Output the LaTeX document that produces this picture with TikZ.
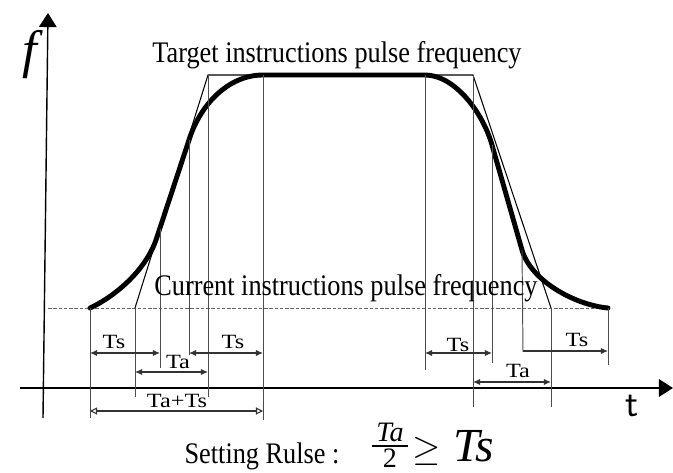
\documentclass[tikz,border=0pt]{standalone}
\usepackage{fontspec}
\setmainfont{Liberation Serif}
\newfontfamily\titlefont[FakeStretch=0.88]{Liberation Serif}
\newfontfamily\dimfont[FakeStretch=1.2]{Liberation Serif}
\usetikzlibrary{arrows.meta}

\begin{document}
\begin{tikzpicture}[x=0.02cm,y=-0.02cm,
   >={Latex[length=4pt,width=3.5pt]},
   axis/.style={line width=0.8pt,-{Triangle[length=8pt,width=10pt]}},
   curve/.style={line width=2.8pt,line join=round,line cap=round},
   ramp/.style={line width=0.6pt},
   guide/.style={line width=0.55pt,black!70},
   level/.style={line width=0.5pt,black!60,dash pattern=on 2pt off 1pt},
   dim/.style={<->,line width=0.6pt,black!80},
   sumdim/.style={line width=0.6pt,black!80,{Triangle[open,length=4pt,width=4pt]}-{Triangle[open,length=4pt,width=4pt]}},
   title/.style={font=\titlefont\fontsize{17}{19}\selectfont,inner sep=0pt,anchor=base},
   dimlbl/.style={font=\dimfont\fontsize{11.5}{13}\selectfont,inner sep=0pt},
   rulelbl/.style={inner sep=0pt,anchor=base,text depth=0pt}]
  \useasboundingbox (0,0) rectangle (673,473);
  % axes
  \coordinate (ybot) at (43,418);
  \coordinate (ytop) at (48,13);
  \coordinate (xleft) at (20,388);
  \coordinate (xright) at (673,388);
  \draw[axis] (ybot) -- (ytop);
  \draw[axis] (xleft) -- (xright);
  \node (flbl) at (30,55) {\fontsize{30}{32}\selectfont\itshape f};
  \node (tlbl) at (632,406) {\fontsize{22}{24}\selectfont\sffamily t};
  % current frequency level
  \coordinate (lvl0) at (48,308);
  \coordinate (lvl1) at (612,308);
  \draw[level] (lvl0) -- (lvl1);
  % trapezoid (target profile)
  \coordinate (r0) at (135,308);
  \coordinate (r1) at (208,75);
  \coordinate (r2) at (473,75);
  \coordinate (r3) at (551,308);
  \draw[ramp] (r0) -- (r1) -- (r2) -- (r3);
  % S-curve
  \coordinate (c0) at (90,308);
  \coordinate (c1) at (157,237);
  \coordinate (c2) at (189,140);
  \coordinate (c3) at (263,75);
  \coordinate (c4) at (425,75);
  \coordinate (c5) at (492,145);
  \coordinate (c6) at (522,250);
  \coordinate (c7) at (608,308);
  \draw[curve] (c0) .. controls (112,298) and (146,272) .. (c1) -- (c2)
     .. controls (200,105) and (228,75) .. (c3) -- (c4)
     .. controls (455,75) and (483,113) .. (c5) -- (c6)
     .. controls (531,281) and (575,305) .. (c7);
  % guide lines, left
  \coordinate (g1) at (90,418);
  \coordinate (g2) at (135,397);
  \coordinate (g3a) at (160,229);
  \coordinate (g3) at (160,368);
  \coordinate (g4) at (189,355);
  \coordinate (g5) at (208,397);
  \coordinate (g6) at (263,420);
  \draw[guide] (c0) -- (g1);
  \draw[guide] (r0) -- (g2);
  \draw[guide] (g3a) -- (g3);
  \draw[guide] (c2) -- (g4);
  \draw[guide] (r1) -- (g5);
  \draw[guide] (c3) -- (g6);
  % guide lines, right
  \coordinate (h1) at (425,370);
  \coordinate (h2) at (473,407);
  \coordinate (h3) at (492,363);
  \coordinate (h4) at (523,352);
  \coordinate (h5) at (551,407);
  \coordinate (h6) at (608,365);
  \draw[guide] (c4) -- (h1);
  \draw[guide] (r2) -- (h2);
  \draw[guide] (c5) -- (h3);
  \draw[guide] (c6) -- (h4);
  \draw[guide] (r3) -- (h5);
  \draw[guide] (c7) -- (h6);
  % dimensions, left
  \coordinate (a1) at (90,353);   \coordinate (a2) at (160,353);
  \coordinate (a3) at (189,353);  \coordinate (a4) at (263,353);
  \coordinate (a5) at (135,372);  \coordinate (a6) at (208,372);
  \coordinate (a7) at (90,411);   \coordinate (a8) at (263,411);
  \draw[dim] (a1) -- (a2);
  \draw[dim] (a3) -- (a4);
  \draw[dim] (a5) -- (a6);
  \draw[sumdim] (a7) -- (a8);
  \node[dimlbl] (ts1) at (114,342) {Ts};
  \node[dimlbl] (ts2) at (233,342) {Ts};
  \node[dimlbl] (ta1) at (178,362) {Ta};
  \node[dimlbl] (tats) at (177,401) {Ta+Ts};
  % dimensions, right
  \coordinate (b1) at (425,353);  \coordinate (b2) at (492,353);
  \coordinate (b3) at (473,382);  \coordinate (b4) at (551,382);
  \coordinate (b5) at (523,351);  \coordinate (b6) at (608,351);
  \draw[dim] (b1) -- (b2);
  \draw[dim] (b3) -- (b4);
  \draw[dim,-{Latex[length=4pt,width=3.5pt]}] (b5) -- (b6);
  \node[dimlbl] (ts3) at (458,345) {Ts};
  \node[dimlbl] (ta2) at (518,371) {Ta};
  \node[dimlbl] (ts4) at (577,340) {Ts};
  % texts
  \node[title] (target) at (337,63) {Target instructions pulse frequency};
  \node[title] (current) at (346,295) {Current instructions pulse frequency};
  \node[title] (setting) at (262,463) {Setting Rulse :};
  % setting rule
  \node[rulelbl] (fnum) at (390,441) {\fontsize{16}{17}\selectfont\itshape Ta};
  \node[rulelbl] (fden) at (390,467) {\fontsize{16}{17}\selectfont 2};
  \coordinate (bar0) at (372,446);
  \coordinate (bar1) at (408,446);
  \draw[line width=0.6pt] (bar0) -- (bar1);
  \node[rulelbl] (geq) at (427,460) {\fontsize{21}{22}\selectfont$\geq$};
  \node[rulelbl] (tsr) at (474,461) {\fontsize{27}{28}\selectfont\itshape Ts};
\end{tikzpicture}
\end{document}
